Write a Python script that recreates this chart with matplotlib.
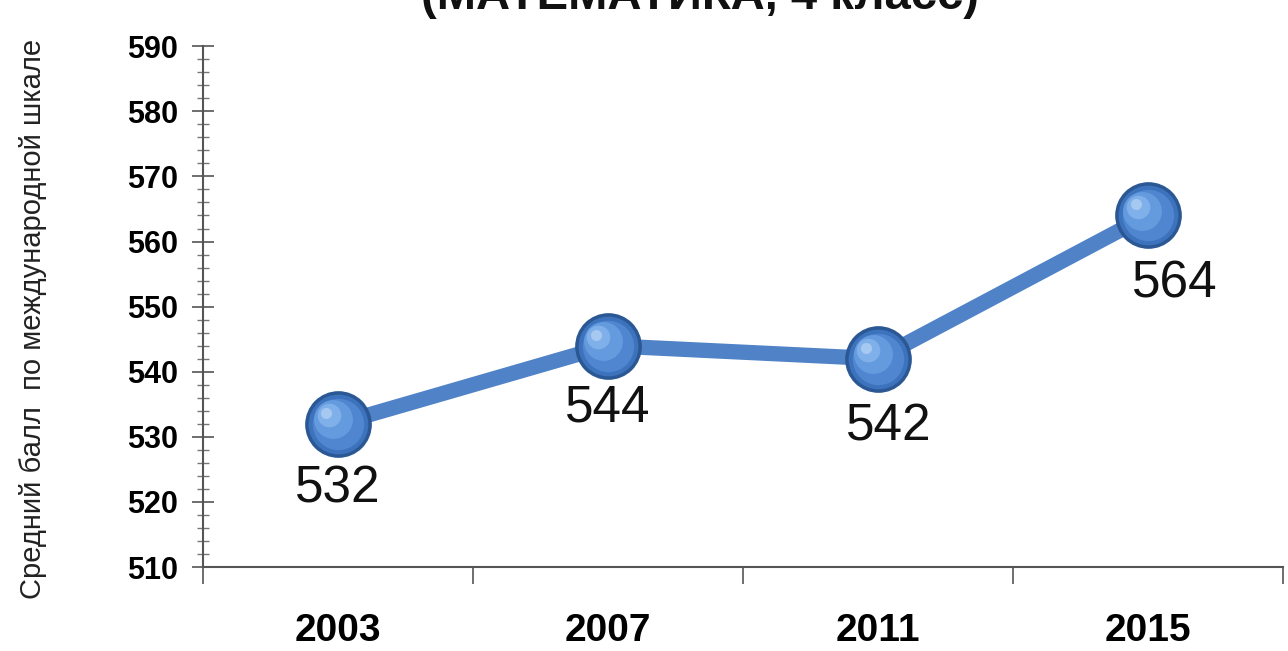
import matplotlib
matplotlib.use("Agg")
import matplotlib.pyplot as plt
from matplotlib.ticker import FixedLocator, MultipleLocator, NullFormatter

years = ["2003", "2007", "2011", "2015"]
scores = [532, 544, 542, 564]
y_ticks = [510, 520, 530, 540, 550, 560, 570, 580, 590]

title = "(МАТЕМАТИКА, 4 класс)"
ylabel = "Средний балл  по международной шкале"

plt.rcParams["font.family"] = ["Liberation Sans", "DejaVu Sans"]

fig = plt.figure(figsize=(12.88, 6.51), dpi=100)
ax = fig.add_axes([0.1576, 0.129, 0.8384, 0.8])

x = list(range(len(years)))
line_color = "#4f82c6"
ax.plot(x, scores, color=line_color, lw=11, solid_capstyle="round", zorder=2)

# spherical markers: dark rim, body, soft highlight
ax.plot(x, scores, "o", ms=47, mfc="#2b5894", mec="#2b5894", zorder=3)
ax.plot(x, scores, "o", ms=43, mfc="#3c73bc", mec="none", zorder=4)
ax.plot(x, scores, "o", ms=37, mfc="#4f86cf", mec="none", zorder=5)
for xi, yi in zip(x, scores):
    ax.plot(xi - 0.02, yi + 0.7, "o", ms=28, mfc="#649ade", mec="none", zorder=6)
    ax.plot(xi - 0.035, yi + 1.3, "o", ms=17, mfc="#80b0ea", mec="none", zorder=7)
    ax.plot(xi - 0.045, yi + 1.7, "o", ms=8, mfc="#a6c9f2", mec="none", zorder=7)

label_offsets = [(0, -10), (0, -9.5), (0.04, -10.5), (0.1, -10.5)]
for xi, yi, (dx, dy) in zip(x, scores, label_offsets):
    ax.text(xi + dx, yi + dy, str(yi), ha="center", va="center",
            fontsize=37, color="#111111", zorder=8)

ax.set_xlim(-0.5, len(years) - 0.5)
ax.set_ylim(510, 590)

ax.xaxis.set_major_locator(FixedLocator([i - 0.5 for i in range(len(years) + 1)]))
ax.xaxis.set_major_formatter(NullFormatter())
ax.xaxis.set_minor_locator(FixedLocator(x))
ax.set_xticklabels(years, minor=True)
ax.tick_params(axis="x", which="major", direction="out", length=12, width=1.2, color="#555555")
ax.tick_params(axis="x", which="minor", length=0, pad=33, labelsize=28)
for lab in ax.get_xticklabels(minor=True):
    lab.set_fontweight("bold")

ax.set_yticks(y_ticks)
ax.yaxis.set_minor_locator(MultipleLocator(2))
ax.tick_params(axis="y", which="major", direction="inout", length=16, width=1.2,
               color="#555555", labelsize=22, pad=10)
ax.tick_params(axis="y", which="minor", direction="inout", length=9, width=1.0, color="#777777")
for lab in ax.get_yticklabels():
    lab.set_fontweight("bold")

for s in ["top", "right"]:
    ax.spines[s].set_visible(False)
for s in ["left", "bottom"]:
    ax.spines[s].set_color("#555555")
    ax.spines[s].set_linewidth(1.5)

fig.text(0.5435, 1.005, title, ha="center", va="center", fontsize=34,
         fontweight="bold", color="#111111")
fig.text(0.026, 0.51, ylabel, ha="center", va="center", rotation=90,
         fontsize=21, color="#222222")

fig.savefig("out.png", dpi=100, facecolor="white")
